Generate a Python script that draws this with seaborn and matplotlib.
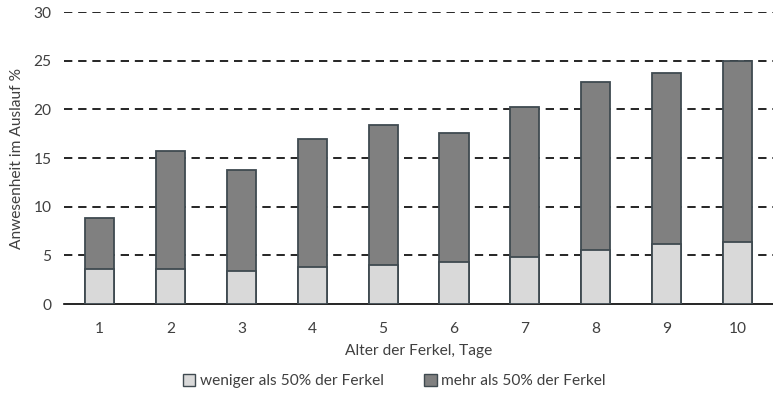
import pandas as pd
import matplotlib.pyplot as plt
import matplotlib as mpl
from matplotlib.patches import Patch
import seaborn as sns

# Alter der Ferkel (Tage)
tage = ['1', '2', '3', '4', '5', '6', '7', '8', '9', '10']
# Anwesenheit im Auslauf %
weniger_50 = [3.6, 3.6, 3.4, 3.8, 4.0, 4.3, 4.8, 5.5, 6.2, 6.4]
mehr_50 = [5.2, 12.1, 10.4, 13.2, 14.4, 13.3, 15.4, 17.3, 17.5, 18.6]

C_LIGHT = '#D9D9D9'
C_DARK = '#808080'
C_EDGE = '#3F4A50'
C_TEXT = '#404040'

sns.set_style('white')
mpl.rcParams['font.family'] = ['Lato', 'DejaVu Sans']
mpl.rcParams['text.color'] = C_TEXT
mpl.rcParams['axes.labelcolor'] = C_TEXT
mpl.rcParams['xtick.color'] = C_TEXT
mpl.rcParams['ytick.color'] = C_TEXT

df = pd.DataFrame({'Tag': tage, 'weniger': weniger_50, 'mehr': mehr_50})
df['gesamt'] = df['weniger'] + df['mehr']

fig = plt.figure(figsize=(7.73, 4.04), dpi=100)
ax = fig.add_axes([0.083, 0.2475, 0.917, 0.7225])

sns.barplot(data=df, x='Tag', y='gesamt', color=C_DARK, width=0.41,
            edgecolor=C_EDGE, linewidth=1.3, saturation=1, ax=ax, zorder=3)
sns.barplot(data=df, x='Tag', y='weniger', color=C_LIGHT, width=0.41,
            edgecolor=C_EDGE, linewidth=1.3, saturation=1, ax=ax, zorder=4)

ax.set_ylim(0, 30)
ax.set_xlim(-0.5, 9.5)
ax.set_yticks(range(0, 31, 5))
for v in range(5, 31, 5):
    ax.axhline(v, color='black', linestyle=(0, (5, 3.5)), lw=1.2, zorder=1)

for s in ['top', 'right', 'left']:
    ax.spines[s].set_visible(False)
ax.spines['bottom'].set_color('black')
ax.spines['bottom'].set_linewidth(1.2)
ax.tick_params(axis='x', length=0, labelsize=11.2, pad=13)
ax.tick_params(axis='y', length=0, labelsize=11.2, pad=9)

ax.set_xlabel('Alter der Ferkel, Tage', fontsize=11.2, labelpad=6)
ax.set_ylabel('Anwesenheit im Auslauf %', fontsize=11.2, labelpad=7)

handles = [Patch(facecolor=C_LIGHT, edgecolor=C_EDGE, label='weniger als 50% der Ferkel'),
           Patch(facecolor=C_DARK, edgecolor=C_EDGE, label='mehr als 50% der Ferkel')]
fig.legend(handles=handles, loc='center', bbox_to_anchor=(0.51, 0.057), ncol=2,
           frameon=False, fontsize=11.2, handlelength=0.8, handleheight=0.8,
           handletextpad=0.3, columnspacing=2.6)

fig.savefig('out.png', dpi=100)
